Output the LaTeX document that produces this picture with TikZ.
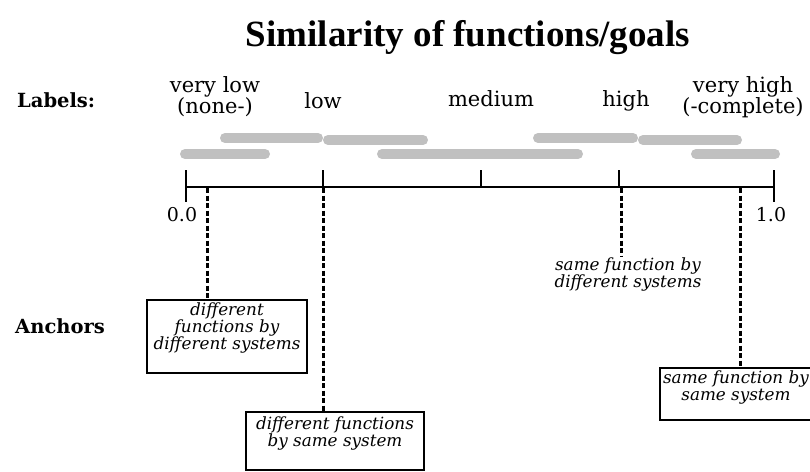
\documentclass[tikz,border=0pt]{standalone}
\usepackage{fontspec}
\setmainfont{DejaVu Serif}
\newfontfamily\titlefont{Liberation Serif}
\definecolor{barGray}{RGB}{192,192,192}
\begin{document}
\begin{tikzpicture}[x=1pt,y=-1pt,
  bar/.style={line width=10pt, line cap=round, draw=barGray},
  axisline/.style={line width=1.8pt},
  tickline/.style={line width=1.8pt},
  dashconn/.style={line width=3pt, dash pattern=on 5pt off 2.5pt},
  lbl/.style={font=\fontsize{21}{17}\selectfont, align=center, inner sep=0pt},
  ticklbl/.style={font=\fontsize{19}{20}\selectfont, inner sep=0pt},
  side/.style={font=\bfseries\fontsize{19.5}{20}\selectfont, inner sep=0pt, anchor=base west},
  anc/.style={font=\itshape\fontsize{16.8}{17}\selectfont, align=center, inner sep=0pt, anchor=north},
  boxst/.style={draw, line width=1.2pt, inner sep=0pt},
  ]
\useasboundingbox (0,0) rectangle (810,471);

% title
\node[anchor=base, inner sep=0pt, font=\titlefont\bfseries\fontsize{37}{40}\selectfont] (title) at (468,46) {Similarity of functions/goals};

% side labels
\node[side] (labels) at (17,107) {Labels:};
\node[side] (anchors) at (15,333) {Anchors};

% category labels
\node[lbl, anchor=north] (vlow) at (215,76) {very low\\(none-)};
\node[lbl, anchor=base] (low) at (323,108) {low};
\node[lbl, anchor=base] (medium) at (491,106) {medium};
\node[lbl, anchor=base] (high) at (626,106) {high};
\node[lbl, anchor=north] (vhigh) at (743,76) {very high\\(-complete)};

% gray bars
\draw[bar] (225,138) -- (318,138);
\draw[bar] (328,140) -- (423,140);
\draw[bar] (185,154) -- (265,154);
\draw[bar] (382,154) -- (578,154);
\draw[bar] (538,138) -- (633,138);
\draw[bar] (643,140) -- (737,140);
\draw[bar] (696,154) -- (775,154);

% axis
\coordinate (a0) at (186,187);
\coordinate (a1) at (774,187);
\coordinate (tlow) at (323,187);
\coordinate (tmed) at (481,187);
\coordinate (thigh) at (619,187);
\draw[axisline] (a0) -- (a1);
\draw[tickline] ([yshift=17pt]a0) -- ([yshift=-15pt]a0);
\draw[tickline] ([yshift=17pt]a1) -- ([yshift=-15pt]a1);
\draw[tickline] ([yshift=17pt]tlow) -- (tlow);
\draw[tickline] ([yshift=17pt]tmed) -- (tmed);
\draw[tickline] ([yshift=17pt]thigh) -- (thigh);

\node[ticklbl] (zero) at (182,215) {0.0};
\node[ticklbl] (one) at (771,215) {1.0};

% anchor boxes
\node[boxst, minimum width=160pt, minimum height=73pt] (box1) at (227,336.5) {};
\node[anc] (box1t) at (227,303) {different\\functions by\\different systems};

\node[boxst, minimum width=178pt, minimum height=58pt] (box2) at (335,441) {};
\node[anc] (box2t) at (335,417) {different functions\\by same system};

\node[anc] (t3) at (628,258) {same function by\\different systems};

\node[boxst, minimum width=152pt, minimum height=52pt] (box4) at (736,394) {};
\node[anc] (box4t) at (736,371) {same function by\\same system};

% dashed connectors
\coordinate (d1) at (207,188);
\coordinate (d2) at (323,188);
\coordinate (d3) at (621,188);
\coordinate (d4) at (740,188);
\draw[dashconn] (d1) -- (d1 |- box1.north);
\draw[dashconn] (d2) -- (d2 |- box2.north);
\draw[dashconn] (d3) -- ([yshift=1pt]d3 |- t3.north);
\draw[dashconn] (d4) -- (d4 |- box4.north);
\end{tikzpicture}
\end{document}
